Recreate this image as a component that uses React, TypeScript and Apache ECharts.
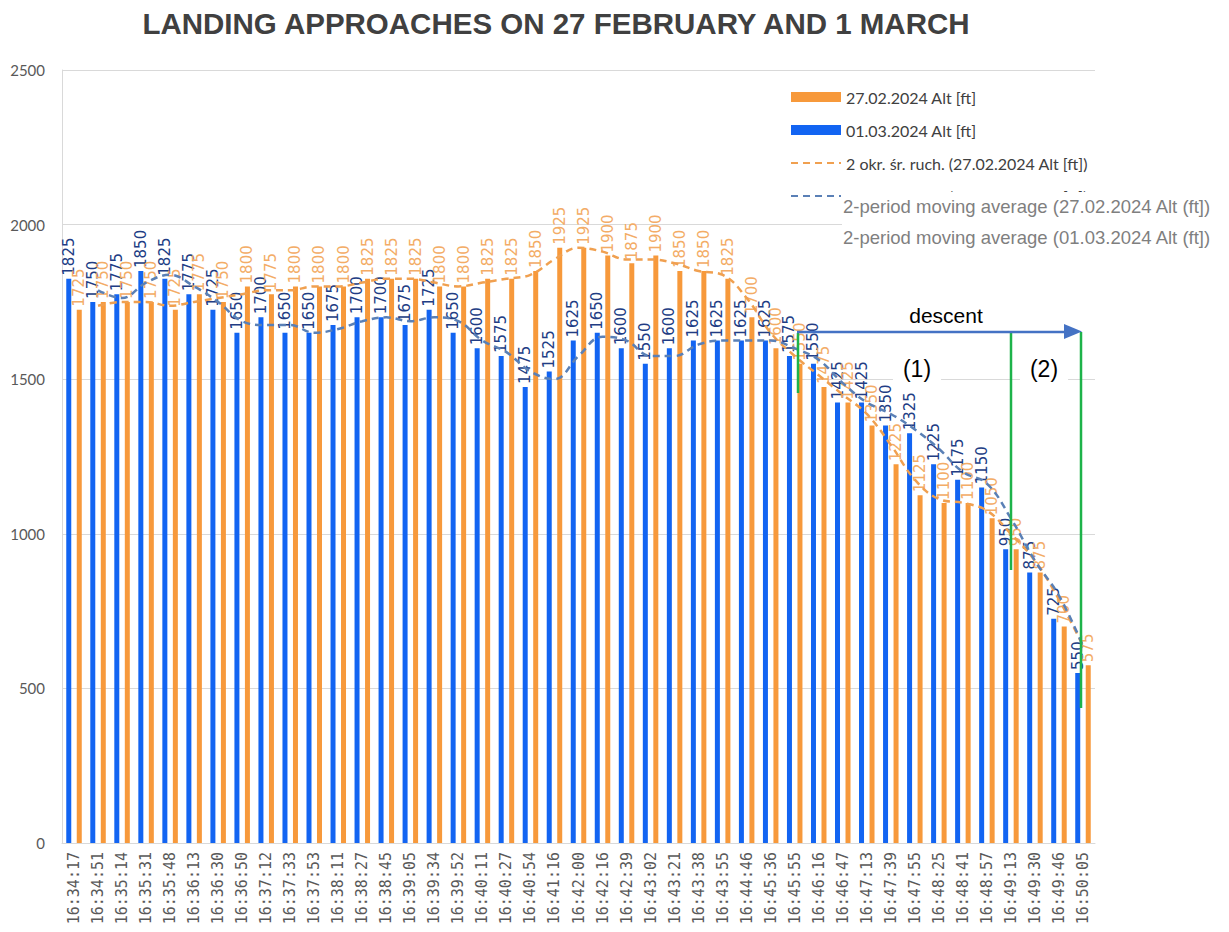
import React, { useEffect, useRef } from "react";
import * as echarts from "echarts";

const categories = [
  "16:34:17", "16:34:51", "16:35:14", "16:35:31", "16:35:48", "16:36:13", "16:36:30", "16:36:50",
  "16:37:12", "16:37:33", "16:37:53", "16:38:11", "16:38:27", "16:38:45", "16:39:05", "16:39:34",
  "16:39:52", "16:40:11", "16:40:27", "16:40:54", "16:41:16", "16:42:00", "16:42:16", "16:42:39",
  "16:43:02", "16:43:21", "16:43:38", "16:43:55", "16:44:46", "16:45:36", "16:45:55", "16:46:16",
  "16:46:47", "16:47:13", "16:47:39", "16:47:55", "16:48:25", "16:48:41", "16:48:57", "16:49:13",
  "16:49:30", "16:49:46", "16:50:05",
];

const alt0103 = [
  1825, 1750, 1775, 1850, 1825, 1775, 1725, 1650,
  1700, 1650, 1650, 1675, 1700, 1700, 1675, 1725,
  1650, 1600, 1575, 1475, 1525, 1625, 1650, 1600,
  1550, 1600, 1625, 1625, 1625, 1625, 1575, 1550,
  1425, 1425, 1350, 1325, 1225, 1175, 1150, 950,
  875, 725, 550,
];

const alt2702 = [
  1725, 1750, 1750, 1750, 1725, 1775, 1750, 1800,
  1775, 1800, 1800, 1800, 1825, 1825, 1825, 1800,
  1800, 1825, 1825, 1850, 1925, 1925, 1900, 1875,
  1900, 1850, 1850, 1825, 1700, 1600, 1550, 1475,
  1425, 1350, 1225, 1125, 1100, 1100, 1050, 950,
  875, 700, 575,
];

const yTicks = [0, 500, 1000, 1500, 2000, 2500];

const NAME_O = "27.02.2024 Alt [ft]";
const NAME_B = "01.03.2024 Alt [ft]";
const NAME_MO = "2 okr. śr. ruch. (27.02.2024 Alt [ft])";
const NAME_MB = "2 okr. śr. ruch. (01.03.2024 Alt [ft])";

const overlayTexts = [
  "2-period moving average (27.02.2024 Alt (ft])",
  "2-period moving average (01.03.2024 Alt (ft])",
];

function movingAvg2(a: number[]): (number | string)[] {
  return a.map((v, i) => (i === 0 ? "-" : (a[i - 1] + v) / 2));
}

const BLUE = "#1264F2";
const ORANGE = "#F7993B";
const GREEN = "#1DB34A";

export default function App() {
  const ref = useRef<HTMLDivElement>(null);
  useEffect(() => {
    document.body.style.margin = "0";
    if (!ref.current) return;
    const chart = echarts.init(ref.current, null, { renderer: "svg" });
    const labelBase = {
      show: true,
      position: "top",
      rotate: 90,
      align: "left",
      verticalAlign: "middle",
      distance: 3,
      fontFamily: "DejaVu Sans",
      fontSize: 15,
    };
    chart.setOption({
      animation: false,
      backgroundColor: "#ffffff",
      title: {
        text: "LANDING APPROACHES ON 27 FEBRUARY AND 1 MARCH",
        left: 551,
        textAlign: "center",
        top: 3,
        textStyle: {
          fontFamily: "Liberation Sans",
          fontWeight: "bold",
          fontSize: 29.5,
          color: "#404040",
        },
      },
      legend: {
        orient: "vertical",
        left: 785,
        top: 83,
        itemWidth: 50,
        itemHeight: 10,
        itemGap: 15,
        data: [
          { name: NAME_O, icon: "rect" },
          { name: NAME_B, icon: "rect" },
          { name: NAME_MO, itemStyle: { opacity: 0 } },
          { name: NAME_MB, itemStyle: { opacity: 0 } },
        ],
        textStyle: {
          fontFamily: "Lato",
          fontSize: 16,
          color: "#404040",
          lineHeight: 18,
        },
      },
      grid: { left: 62, right: 134, top: 70, bottom: 89, containLabel: false },
      xAxis: {
        type: "category",
        data: categories,
        axisTick: { show: false },
        axisLine: { show: true, lineStyle: { color: "#D9D9D9", width: 1 } },
        axisLabel: {
          interval: 0,
          rotate: 90,
          margin: 9,
          fontFamily: "DejaVu Sans Mono",
          fontSize: 15,
          color: "#595959",
        },
      },
      yAxis: {
        type: "value",
        min: yTicks[0],
        max: yTicks[yTicks.length - 1],
        interval: 500,
        axisLine: { show: true, lineStyle: { color: "#D9D9D9", width: 1 } },
        axisTick: { show: false },
        splitLine: { show: true, lineStyle: { color: "#D9D9D9", width: 1 } },
        axisLabel: {
          margin: 17,
          fontFamily: "Lato",
          fontSize: 15,
          color: "#595959",
          formatter: (v: number) => String(v),
        },
      },
      series: [
        {
          name: NAME_B,
          type: "bar",
          data: alt0103,
          barWidth: 5,
          barGap: "110%",
          itemStyle: { color: BLUE },
          label: { ...labelBase, color: "#213C84" },
          z: 2,
        },
        {
          name: NAME_O,
          type: "bar",
          data: alt2702,
          barWidth: 5,
          barGap: "110%",
          itemStyle: { color: ORANGE },
          label: { ...labelBase, color: "#F3AC66" },
          z: 2,
        },
        {
          name: NAME_MO,
          type: "line",
          data: movingAvg2(alt2702),
          smooth: 0.4,
          symbol: "none",
          showSymbol: false,
          itemStyle: { color: "#F0A050" },
          lineStyle: { color: "#F0A050", width: 2.5, type: [7, 5] },
          z: 3,
        },
        {
          name: NAME_MB,
          type: "line",
          data: movingAvg2(alt0103),
          smooth: 0.4,
          symbol: "none",
          showSymbol: false,
          itemStyle: { color: "#5A80B6" },
          lineStyle: { color: "#5A80B6", width: 2.5, type: [7, 5] },
          z: 3,
        },
      ],
      graphic: [
        {
          type: "rect",
          z: 100,
          shape: { x: 842, y: 192, width: 387, height: 60 },
          style: { fill: "#ffffff" },
        },
        {
          type: "text",
          z: 101,
          x: 843,
          y: 206,
          style: {
            text: overlayTexts[0],
            fontFamily: "Liberation Sans",
            fontSize: 18.5,
            fill: "#7F7F7F",
            verticalAlign: "middle",
          },
        },
        {
          type: "text",
          z: 101,
          x: 843,
          y: 237,
          style: {
            text: overlayTexts[1],
            fontFamily: "Liberation Sans",
            fontSize: 18.5,
            fill: "#7F7F7F",
            verticalAlign: "middle",
          },
        },
        {
          type: "line",
          z: 100,
          shape: { x1: 798, y1: 333, x2: 798, y2: 393 },
          style: { stroke: GREEN, lineWidth: 2.5 },
        },
        {
          type: "line",
          z: 100,
          shape: { x1: 1011, y1: 332, x2: 1011, y2: 570 },
          style: { stroke: GREEN, lineWidth: 2.5 },
        },
        {
          type: "line",
          z: 100,
          shape: { x1: 1081, y1: 332, x2: 1081, y2: 708 },
          style: { stroke: GREEN, lineWidth: 2.5 },
        },
        {
          type: "line",
          z: 101,
          shape: { x1: 797, y1: 332, x2: 1068, y2: 332 },
          style: { stroke: "#4472C4", lineWidth: 2.5 },
        },
        {
          type: "polygon",
          z: 101,
          shape: { points: [[1064, 324], [1082, 331.5], [1064, 339]] },
          style: { fill: "#4472C4" },
        },
        {
          type: "text",
          z: 101,
          x: 946,
          y: 315,
          style: {
            text: "descent",
            fontFamily: "Liberation Sans",
            fontSize: 21,
            fill: "#000000",
            align: "center",
            verticalAlign: "middle",
          },
        },
        {
          type: "text",
          z: 101,
          x: 917,
          y: 369,
          style: {
            text: "(1)",
            fontFamily: "Liberation Sans",
            fontSize: 23,
            fill: "#000000",
            align: "center",
            verticalAlign: "middle",
            backgroundColor: "#ffffff",
            padding: [2, 10],
          },
        },
        {
          type: "text",
          z: 101,
          x: 1044,
          y: 369,
          style: {
            text: "(2)",
            fontFamily: "Liberation Sans",
            fontSize: 23,
            fill: "#000000",
            align: "center",
            verticalAlign: "middle",
            backgroundColor: "#ffffff",
            padding: [2, 10],
          },
        },
      ],
    });
    return () => chart.dispose();
  }, []);
  return <div ref={ref} style={{ width: 1229, height: 932 }} />;
}
